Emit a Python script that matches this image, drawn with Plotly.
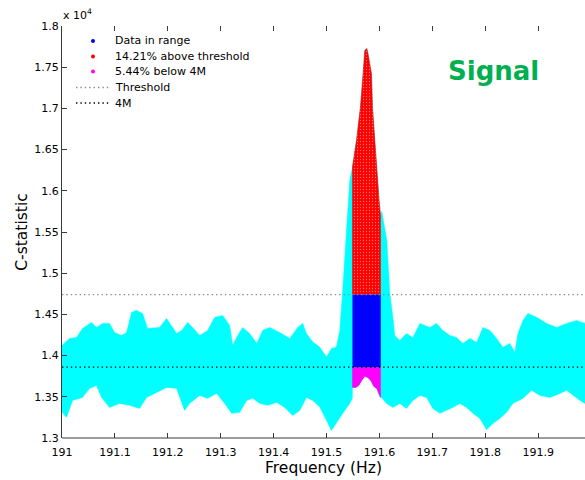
import plotly.graph_objects as go

FONT = "DejaVu Sans"

# Upper edge of the C-statistic scatter (frequency in Hz, statistic)
upper_freq = [191.0000, 191.0142, 191.0274, 191.0388, 191.0558, 191.0653, 191.0766, 191.0899,
              191.0993, 191.1126, 191.1220, 191.1315, 191.1409, 191.1523, 191.1617, 191.1750,
              191.1844, 191.1977, 191.2072, 191.2166, 191.2261, 191.2374, 191.2469, 191.2601,
              191.2753, 191.2885, 191.3037, 191.3169, 191.3226, 191.3321, 191.3415, 191.3547,
              191.3680, 191.3793, 191.3925, 191.4115, 191.4304, 191.4455, 191.4549, 191.4620,
              191.4739, 191.4871, 191.4998, 191.5093, 191.5187, 191.5250, 191.5301, 191.5363,
              191.5439, 191.5490, 191.5566, 191.5641, 191.5691, 191.5723, 191.5760, 191.5779,
              191.5849, 191.5868, 191.5912, 191.5944, 191.5993, 191.6020, 191.6045, 191.6139,
              191.6196, 191.6253, 191.6290, 191.6385, 191.6511, 191.6631, 191.6765, 191.6954,
              191.7079, 191.7198, 191.7331, 191.7457, 191.7577, 191.7710, 191.7836, 191.7955,
              191.8088, 191.8214, 191.8333, 191.8466, 191.8560, 191.8617, 191.8712, 191.8806,
              191.8971, 191.9160, 191.9349, 191.9538, 191.9728, 191.9885]
upper_stat = [14124, 14209, 14221, 14330, 14403, 14342, 14391, 14391,
              14281, 14245, 14281, 14524, 14549, 14512, 14330, 14342,
              14342, 14451, 14366, 14269, 14306, 14403, 14342, 14245,
              14306, 14464, 14488, 14366, 14124, 14245, 14342, 14269,
              14148, 14306, 14342, 14281, 14209, 14342, 14391, 14269,
              14164, 14103, 13982, 14087, 14103, 14306, 14755, 15398,
              16126, 16288, 16612, 17016, 17421, 17704, 17728, 17680,
              17421, 17016, 16612, 16288, 15883, 15700, 15750, 15398,
              14755, 14467, 14245, 14184, 14269, 14221, 14391, 14342,
              14391, 14306, 14245, 14221, 14148, 14209, 14160, 14342,
              14306, 14209, 14100, 14148, 14039, 14269, 14427, 14512,
              14464, 14391, 14342, 14391, 14427, 14391]

# Lower edge of the scatter
lower_freq = [191.0000, 191.0085, 191.0199, 191.0388, 191.0520, 191.0653, 191.0747, 191.0899,
              191.1088, 191.1277, 191.1466, 191.1599, 191.1788, 191.1977, 191.2166, 191.2317,
              191.2412, 191.2601, 191.2753, 191.2923, 191.3074, 191.3207, 191.3358, 191.3490,
              191.3604, 191.3737, 191.3888, 191.4058, 191.4210, 191.4361, 191.4494, 191.4620,
              191.4739, 191.4871, 191.4998, 191.5093, 191.5187, 191.5306, 191.5439, 191.5486,
              191.5490, 191.5552, 191.5609, 191.5666, 191.5723, 191.5779, 191.5836, 191.5893,
              191.5950, 191.5987, 191.6020, 191.6039, 191.6133, 191.6253, 191.6385, 191.6511,
              191.6631, 191.6765, 191.6890, 191.7009, 191.7142, 191.7268, 191.7387, 191.7520,
              191.7647, 191.7766, 191.7898, 191.8025, 191.8144, 191.8277, 191.8403, 191.8522,
              191.8712, 191.8876, 191.9033, 191.9222, 191.9412, 191.9538, 191.9658, 191.9791,
              191.9885]
lower_stat = [13311, 13250, 13456, 13493, 13602, 13638, 13493, 13371,
              13420, 13396, 13359, 13493, 13553, 13614, 13602, 13335,
              13420, 13517, 13481, 13541, 13420, 13299, 13311, 13456,
              13481, 13420, 13396, 13432, 13371, 13274, 13335, 13493,
              13456, 13375, 13214, 13090, 13177, 13299, 13420, 13481,
              13614, 13614, 13638, 13699, 13748, 13735, 13699, 13626,
              13602, 13541, 13493, 13493, 13420, 13371, 13420, 13359,
              13456, 13517, 13493, 13359, 13299, 13335, 13371, 13420,
              13371, 13299, 13238, 13100, 13177, 13238, 13311, 13420,
              13481, 13578, 13517, 13493, 13541, 13578, 13517, 13456,
              13420]

# Frequency window of the candidate signal and the two reference levels
band_lo = 191.549
band_hi = 191.602
threshold = 14740
four_m = 13860

legend_labels = ["Data in range", "14.21% above threshold", "5.44% below 4M", "Threshold", "4M"]
legend_colors = ["#0000FF", "#FF0000", "#FF00FF"]

x_ticks = [191.0, 191.1, 191.2, 191.3, 191.4, 191.5, 191.6, 191.7, 191.8, 191.9]
x_tick_text = ["191", "191.1", "191.2", "191.3", "191.4", "191.5", "191.6", "191.7", "191.8", "191.9"]
y_ticks = [13000, 13500, 14000, 14500, 15000, 15500, 16000, 16500, 17000, 17500, 18000]
y_tick_text = ["1.3", "1.35", "1.4", "1.45", "1.5", "1.55", "1.6", "1.65", "1.7", "1.75", "1.8"]

x_range = [191.0, 191.9885]
y_range = [13000, 18000]

# Page geometry (pixels)
W, H = 585, 480
L, R, T, B = 62, 0, 26, 42
PW, PH = W - L - R, H - T - B


def xp(px):
    return (px - L) / PW


def yp(py):
    return (H - B - py) / PH


def in_band(freqs, stats):
    pts = [(f, s) for f, s in zip(freqs, stats) if band_lo - 1e-9 <= f <= band_hi + 1e-9]
    return [p[0] for p in pts], [p[1] for p in pts]


fig = go.Figure()

# All data (cyan cloud)
fig.add_trace(go.Scatter(
    x=upper_freq + lower_freq[::-1], y=upper_stat + lower_stat[::-1],
    mode="lines", fill="toself", fillcolor="#00FFFF",
    line=dict(color="#00FFFF", width=0.5), hoverinfo="skip", showlegend=False))

# Data in range, between the 4M level and the threshold
fig.add_trace(go.Scatter(
    x=[band_lo, band_hi, band_hi, band_lo], y=[four_m, four_m, threshold, threshold],
    mode="lines", fill="toself", fillcolor="#0000FF",
    line=dict(color="#0000FF", width=0.5), hoverinfo="skip", showlegend=False))

# Points above threshold (dense red cloud with small gaps between points)
uf, us = in_band(upper_freq, upper_stat)
fig.add_trace(go.Scatter(
    x=[band_lo] + uf + [band_hi], y=[threshold] + us + [threshold],
    mode="lines", fill="toself", fillcolor="#FF0000",
    fillpattern=dict(shape=".", bgcolor="#FF0000", fgcolor="#FFE0E0",
                     size=3, solidity=0.15),
    line=dict(color="#FF0000", width=0.5), hoverinfo="skip", showlegend=False))

# Points below 4M
lf, ls = in_band(lower_freq, lower_stat)
fig.add_trace(go.Scatter(
    x=[band_lo] + lf + [band_hi], y=[four_m] + ls + [four_m],
    mode="lines", fill="toself", fillcolor="#FF00FF",
    line=dict(color="#FF00FF", width=0.5), hoverinfo="skip", showlegend=False))

# Reference levels
fig.add_trace(go.Scatter(
    x=x_range, y=[threshold, threshold], mode="lines",
    line=dict(color="#8a8a8a", width=1.4, dash="1.4px,3px"), hoverinfo="skip", showlegend=False))
fig.add_trace(go.Scatter(
    x=x_range, y=[four_m, four_m], mode="lines",
    line=dict(color="#000000", width=1.4, dash="1.4px,3px"), hoverinfo="skip", showlegend=False))

shapes = [
    # bottom axis line
    dict(type="line", xref="paper", yref="paper", x0=0, x1=1, y0=0, y1=0,
         line=dict(color="#3a3a3a", width=1)),
]
annotations = []

# Legend drawn in the upper-left corner of the axes
rows = [41, 56.5, 71.5, 87.5, 103]
for i, label in enumerate(legend_labels):
    if i < 3:
        shapes.append(dict(type="circle", xref="paper", yref="paper",
                           xsizemode="pixel", ysizemode="pixel",
                           xanchor=xp(93), yanchor=yp(rows[i]),
                           x0=-2, x1=2, y0=-2, y1=2,
                           fillcolor=legend_colors[i], line=dict(width=0)))
    else:
        shapes.append(dict(type="line", xref="paper", yref="paper",
                           x0=xp(76), x1=xp(110), y0=yp(rows[i]), y1=yp(rows[i]),
                           line=dict(color="#8a8a8a" if i == 3 else "#000000",
                                     width=1.4, dash="1.4px,3px")))
    annotations.append(dict(xref="paper", yref="paper", x=xp(113), y=yp(rows[i]),
                            xanchor="left", yanchor="middle", showarrow=False,
                            text=label, font=dict(family=FONT, size=11, color="#000000")))

# Exponent of the y axis
annotations.append(dict(xref="paper", yref="paper", x=xp(61), y=yp(15),
                        xanchor="left", yanchor="middle", showarrow=False,
                        text="x 10<sup>4</sup>", font=dict(family=FONT, size=11, color="#000000")))

annotations.append(dict(xref="paper", yref="paper", x=xp(493), y=yp(71),
                        xanchor="center", yanchor="middle", showarrow=False,
                        text="<b>Signal</b>", font=dict(family=FONT, size=26, color="#00B050")))

fig.update_layout(
    width=W, height=H,
    margin=dict(l=L, r=R, t=T, b=B, pad=0),
    paper_bgcolor="white", plot_bgcolor="white",
    showlegend=False,
    shapes=shapes, annotations=annotations,
    font=dict(family=FONT, size=11, color="#000000"),
    xaxis=dict(range=x_range, tickvals=x_ticks, ticktext=x_tick_text,
               ticks="inside", ticklen=5, tickcolor="#3a3a3a", tickwidth=1,
               showline=False, mirror="ticks", showgrid=False, zeroline=False,
               ticklabelstandoff=6,
               tickfont=dict(family=FONT, size=11, color="#000000"),
               title=dict(text="Frequency (Hz)", standoff=3,
                          font=dict(family=FONT, size=15.5, color="#000000"))),
    yaxis=dict(range=y_range, tickvals=y_ticks, ticktext=y_tick_text,
               ticks="inside", ticklen=5, tickcolor="#3a3a3a", tickwidth=1,
               showline=True, linecolor="#3a3a3a", linewidth=1, mirror=False,
               showgrid=False, zeroline=False,
               tickfont=dict(family=FONT, size=11, color="#000000"),
               title=dict(text="C-statistic", standoff=2,
                          font=dict(family=FONT, size=15.5, color="#000000"))),
)

fig.write_html("out.html")
